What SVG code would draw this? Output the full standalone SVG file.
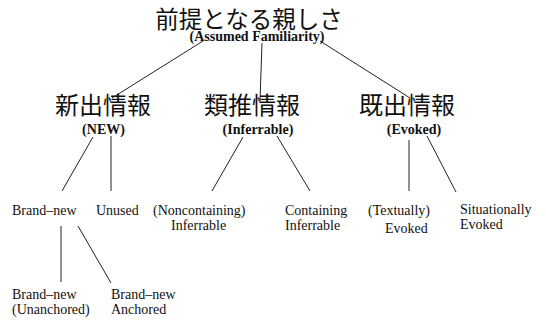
<svg xmlns="http://www.w3.org/2000/svg" width="546" height="320" viewBox="0 0 546 320">
<style>
.cjk{font-family:"Noto Sans CJK JP","Noto Sans CJK SC",sans-serif;font-size:24px;fill:#111;text-anchor:middle}
.en{font-family:"Liberation Serif","Times New Roman",serif;font-size:14px;font-weight:bold;fill:#111;text-anchor:middle}
.lbl{font-family:"Liberation Serif","Times New Roman",serif;font-size:14px;fill:#111}
.ln{stroke:#222;stroke-width:1;fill:none}
</style>
<rect width="546" height="320" fill="#fff"/>
<g id="connectors">
<line class="ln" x1="203" y1="41" x2="112" y2="98"/>
<line class="ln" x1="262" y1="43" x2="260" y2="101"/>
<line class="ln" x1="320" y1="41" x2="410" y2="98"/>
<line class="ln" x1="93" y1="137" x2="62" y2="191"/>
<line class="ln" x1="111" y1="136" x2="111" y2="191"/>
<line class="ln" x1="243" y1="137" x2="212" y2="191"/>
<line class="ln" x1="277" y1="136" x2="310" y2="191"/>
<line class="ln" x1="409" y1="140" x2="409" y2="191"/>
<line class="ln" x1="427" y1="136" x2="456" y2="192"/>
<line class="ln" x1="61" y1="226" x2="61" y2="282"/>
<line class="ln" x1="78" y1="226" x2="111" y2="283"/>
</g>
<g id="root">
<text class="cjk" x="249" y="27.5" style="font-size:23.5px">前提となる親しさ</text>
<text class="en" x="257" y="41">(Assumed Familiarity)</text>
</g>
<g id="new">
<text class="cjk" x="103" y="114">新出情報</text>
<text class="en" x="103.5" y="133.5">(NEW)</text>
</g>
<g id="inferrable">
<text class="cjk" x="252" y="114">類推情報</text>
<text class="en" x="258" y="133.5">(Inferrable)</text>
</g>
<g id="evoked">
<text class="cjk" x="407" y="114">既出情報</text>
<text class="en" x="414" y="133.5">(Evoked)</text>
</g>
<g id="brand-new">
<text class="lbl" x="12" y="215">Brand–new</text>
</g>
<g id="unused">
<text class="lbl" x="96" y="215">Unused</text>
</g>
<g id="noncontaining-inferrable">
<text class="lbl" x="153" y="215">(Noncontaining)</text>
<text class="lbl" x="171" y="230">Inferrable</text>
</g>
<g id="containing-inferrable">
<text class="lbl" x="285" y="215">Containing</text>
<text class="lbl" x="285" y="230">Inferrable</text>
</g>
<g id="textually-evoked">
<text class="lbl" x="368" y="215">(Textually)</text>
<text class="lbl" x="385" y="233">Evoked</text>
</g>
<g id="situationally-evoked">
<text class="lbl" x="460" y="214">Situationally</text>
<text class="lbl" x="460" y="229">Evoked</text>
</g>
<g id="brand-new-unanchored">
<text class="lbl" x="12" y="299">Brand–new</text>
<text class="lbl" x="12" y="314">(Unanchored)</text>
</g>
<g id="brand-new-anchored">
<text class="lbl" x="111" y="299">Brand–new</text>
<text class="lbl" x="111" y="314">Anchored</text>
</g>
</svg>
